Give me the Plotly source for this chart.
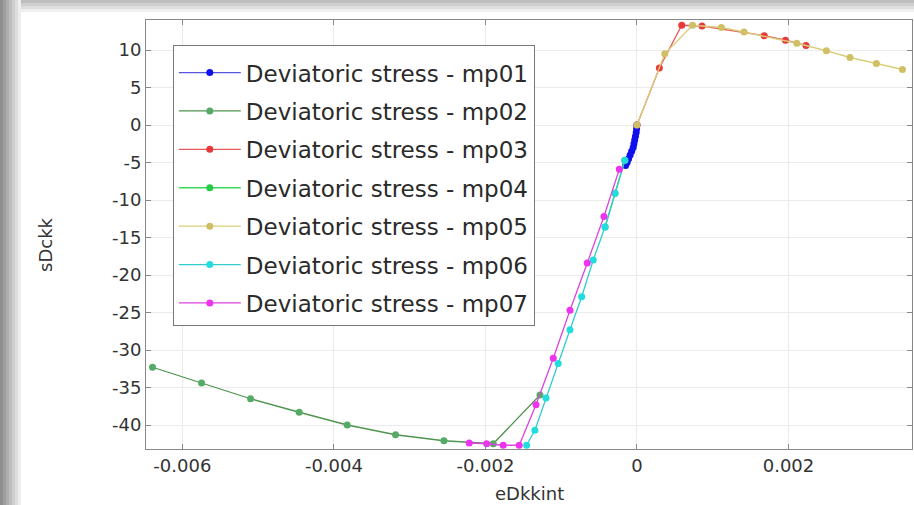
import plotly.graph_objects as go

# ---- data ----
names = ["Deviatoric stress - mp01", "Deviatoric stress - mp02", "Deviatoric stress - mp03",
         "Deviatoric stress - mp04", "Deviatoric stress - mp05", "Deviatoric stress - mp06",
         "Deviatoric stress - mp07"]

mp01_x = [0.0, -0.000005, -0.00001, -0.00002, -0.00003, -0.00004, -0.00005, -0.00007, -0.00009, -0.00011, -0.00013, -0.00015]
mp01_y = [0.0, -0.5, -1.0, -1.5, -2.0, -2.5, -3.0, -3.5, -4.0, -4.5, -5.0, -5.4]

mp02_x = [-0.006394, -0.005747, -0.005100, -0.004458, -0.003824, -0.003186, -0.002548, -0.001897, -0.00128]
mp02_y = [-32.3, -34.4, -36.5, -38.3, -40.0, -41.3, -42.1, -42.5, -36.0]

mp03_x = [0.0, 0.000296, 0.000591, 0.000858, 0.00168, 0.00196, 0.002231]
mp03_y = [0.0, 7.6, 13.3, 13.2, 11.9, 11.3, 10.6]

mp04_x = [-0.00016, -0.00029, -0.00042]
mp04_y = [-4.7, -9.1, -13.6]

mp05_x = [0.0, 0.000367, 0.000734, 0.001114, 0.001413, 0.00211, 0.0025, 0.002812, 0.00316, 0.003504]
mp05_y = [0.0, 9.5, 13.3, 13.0, 12.4, 10.9, 9.9, 9.0, 8.2, 7.4]

mp06_x = [-0.00016, -0.00029, -0.000422, -0.000577, -0.00073, -0.000884, -0.001039, -0.0012, -0.001347, -0.001456]
mp06_y = [-4.7, -9.1, -13.6, -18.0, -22.9, -27.3, -31.8, -36.4, -40.7, -42.7]

mp07_x = [-0.000233, -0.000436, -0.000656, -0.000884, -0.001105, -0.001333, -0.001554, -0.001765, -0.001984, -0.002214]
mp07_y = [-5.9, -12.2, -18.4, -24.7, -31.1, -37.3, -42.7, -42.7, -42.5, -42.4]

xs = [mp01_x, mp02_x, mp03_x, mp04_x, mp05_x, mp06_x, mp07_x]
ys = [mp01_y, mp02_y, mp03_y, mp04_y, mp05_y, mp06_y, mp07_y]

line_colors = ["#5555dd", "#4f944f", "#e85a5a", "#3ad85a", "#d9cf7a", "#33cccc", "#dd44dd"]
marker_colors = ["#1010ee", "#55aa66", "#e83a3a", "#22cc44", "#cfc066", "#22dddd", "#ee33ee"]

x_ticks = [-0.006, -0.004, -0.002, 0, 0.002]
x_ticklabels = ["-0.006", "-0.004", "-0.002", "0", "0.002"]
y_ticks = [10, 5, 0, -5, -10, -15, -20, -25, -30, -35, -40]
y_ticklabels = ["10", "5", "0", "-5", "-10", "-15", "-20", "-25", "-30", "-35", "-40"]

fig = go.Figure()
for i in range(7):
    fig.add_trace(go.Scatter(
        x=xs[i], y=ys[i], name=names[i], mode="lines+markers",
        legendgroup=f"g{i}",
        line=dict(color=line_colors[i], width=1.3),
        marker=dict(color=marker_colors[i], size=7, symbol="circle"),
        cliponaxis=True,
    ))

font = "DejaVu Sans, Verdana, sans-serif"

shapes = []
# screenshot-like gray borders (left strip and top strip)
grays = ["#8e8e8e", "#9e9e9e", "#aeaeae", "#bebebe", "#cecece", "#dedede", "#eeeeee"]
for k, g in enumerate(grays):
    shapes.append(dict(type="rect", xref="paper", yref="paper", layer="below",
                       x0=(0 + k * 3 - 146) / 766, x1=(3 + k * 3 - 146) / 766,
                       y0=(449 - 505) / 429, y1=(449 - 0) / 429,
                       line=dict(width=0), fillcolor=g))
for k, g in enumerate(grays[3:]):
    shapes.append(dict(type="rect", xref="paper", yref="paper", layer="below",
                       x0=(21 - 146) / 766, x1=(914 - 146) / 766,
                       y0=(449 - (k + 1) * 3) / 429, y1=(449 - k * 3) / 429,
                       line=dict(width=0), fillcolor=g))

fig.update_layout(
    width=914, height=505,
    margin=dict(l=146, r=2, t=20, b=56),
    paper_bgcolor="white", plot_bgcolor="white",
    font=dict(family=font, size=18, color="#333333"),
    showlegend=True,
    legend=dict(x=0.035, y=0.942, xanchor="left", yanchor="top",
                bgcolor="white", bordercolor="#777777", borderwidth=1,
                font=dict(family=font, size=23, color="#2a2a2a"),
                title=dict(text=" ", font=dict(size=4)),
                tracegroupgap=5.5, itemwidth=62),
    shapes=shapes,
    annotations=[
        dict(text="eDkkint", xref="paper", yref="paper", x=0.5, y=(449 - 493) / 429,
             xanchor="center", yanchor="middle", showarrow=False,
             font=dict(family=font, size=18, color="#333333")),
        dict(text="sDckk", xref="paper", yref="paper", x=(45 - 146) / 766, y=(449 - 245) / 429,
             xanchor="center", yanchor="middle", showarrow=False, textangle=-90,
             font=dict(family=font, size=18, color="#333333")),
    ],
)
fig.update_xaxes(range=[-0.00648, 0.00363], tickvals=x_ticks, ticktext=x_ticklabels,
                 showgrid=True, gridcolor="#ebebeb", gridwidth=1, zeroline=False,
                 showline=True, linecolor="#888888", linewidth=1, mirror="ticks",
                 ticks="inside", ticklen=5, tickcolor="#888888")
fig.update_yaxes(range=[-43.2, 14.0], tickvals=y_ticks, ticktext=y_ticklabels,
                 showgrid=True, gridcolor="#ebebeb", gridwidth=1, zeroline=False,
                 showline=True, linecolor="#888888", linewidth=1, mirror="ticks",
                 ticks="inside", ticklen=5, tickcolor="#888888")

fig.write_html("out.html")
